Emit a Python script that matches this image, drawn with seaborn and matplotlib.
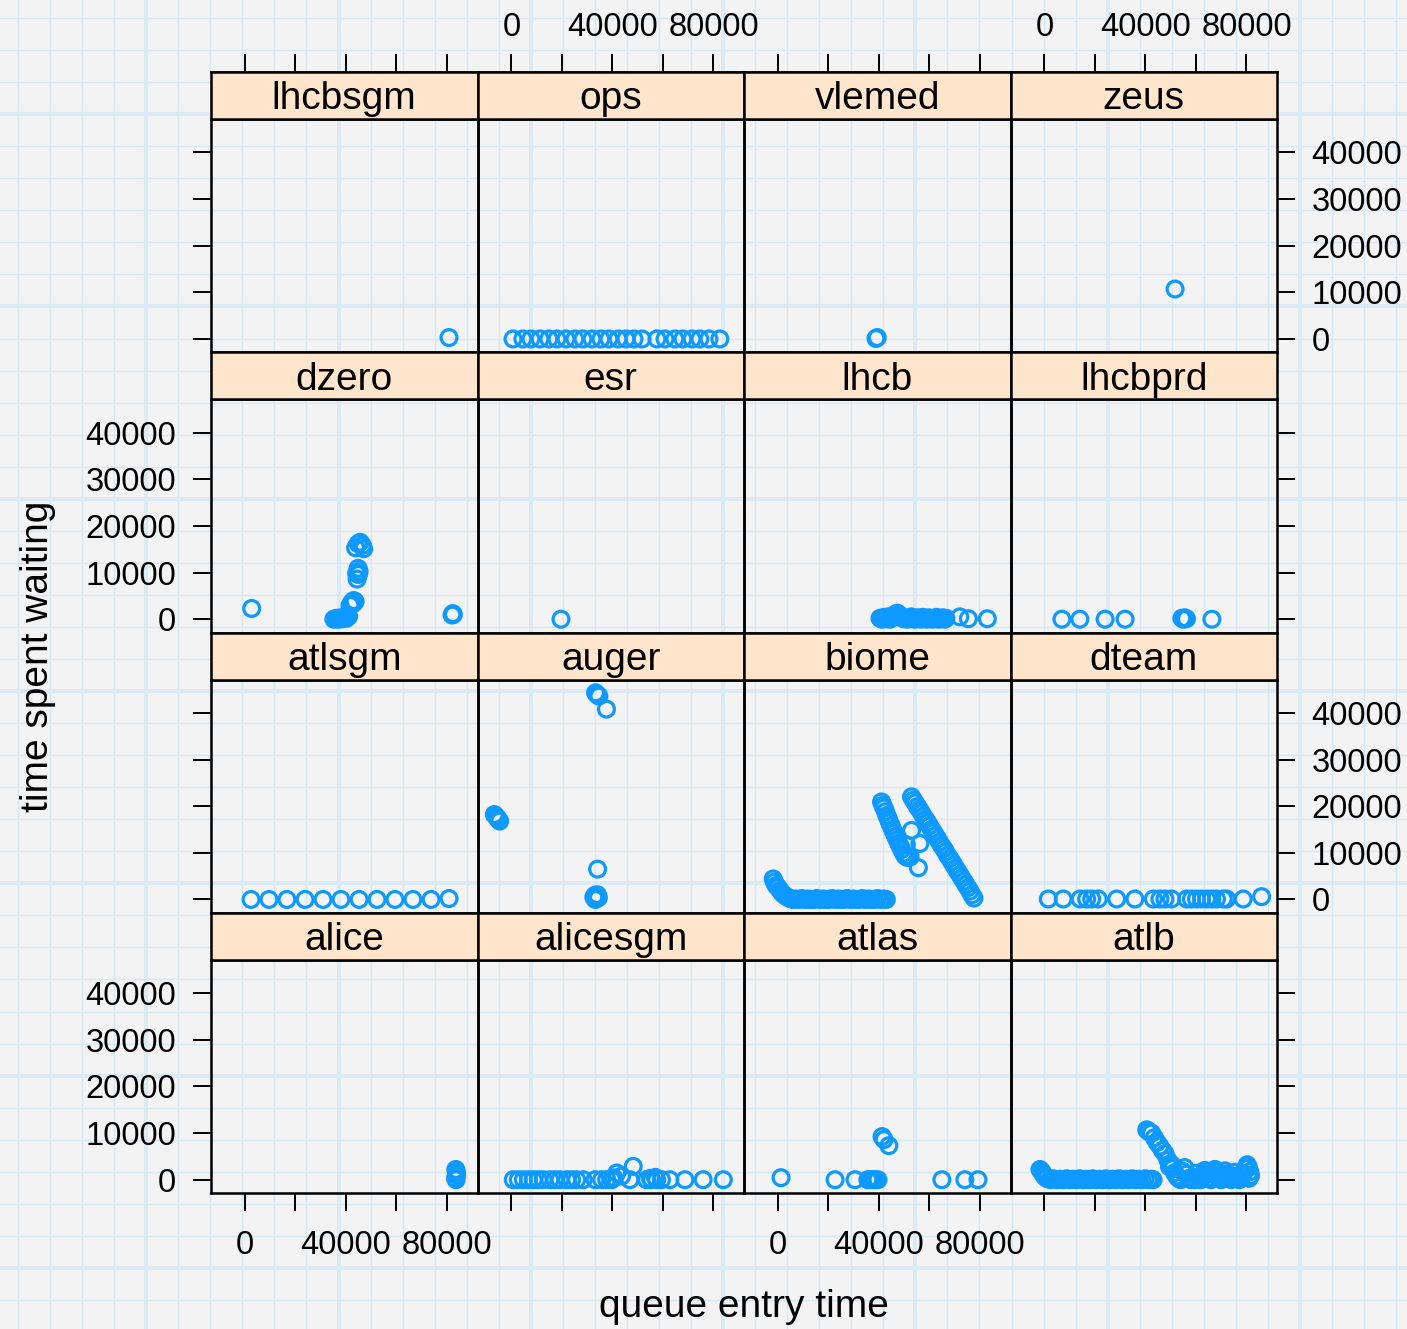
import numpy as np
import pandas as pd
import matplotlib
matplotlib.use("Agg")
import matplotlib.pyplot as plt
from matplotlib.patches import Rectangle
import seaborn as sns

# ---------------- data (queue entry time, time spent waiting) ----------------
lhcbsgm = [(80800, 300)]
ops = [(600, 0), (4500, 0), (7700, 0), (11300, 0), (14800, 0), (18000, 0), (21600, 0),
       (25100, 0), (28300, 0), (31900, 0), (35400, 0), (38600, 0), (42200, 0), (45300, 0),
       (48500, 0), (51700, 0), (57600, 0), (60800, 0), (64700, 0), (67900, 0), (71500, 0),
       (74600, 0), (78200, 0), (82500, 0)]
vlemed = [(38800, 100), (39300, 300)]
zeus = [(51700, 10700)]

dzero = [(2650, 2300), (35200, 0), (36200, 200), (37000, 0), (37800, 300), (38600, 100),
         (39400, 400), (40200, 200), (41000, 600), (41600, 3000), (42300, 3600), (43000, 4000),
         (43600, 3800), (42800, 3300), (44400, 8600), (44900, 9600), (44200, 9800), (44800, 10900),
         (45200, 10200), (43800, 15300), (44800, 16200), (45600, 16500), (46500, 15800),
         (47000, 15100), (82000, 900), (82300, 1200), (82500, 1000)]
esr = [(19600, 0)]
lhcb = [(40400, 200), (41200, 0), (42000, 400), (42800, 100), (43500, 500), (44300, 0),
        (45000, 300), (45800, 800), (46600, 1100), (47300, 1300), (48100, 900), (48900, 400),
        (49700, 100), (50400, 300), (51200, 0), (52000, 200), (52800, 500), (53500, 100),
        (54300, 0), (55100, 300), (55900, 200), (56600, 0), (57400, 400), (58200, 100),
        (59000, 0), (59700, 300), (60500, 100), (61300, 0), (62100, 200), (62800, 400),
        (63600, 0), (64400, 100), (65200, 300), (66000, 0), (66500, 200), (72000, 500),
        (75400, 100), (82900, 100)]
lhcbprd = [(6900, 0), (14000, 0), (24000, 0), (31900, 0), (54400, 200), (55000, 0),
           (55600, 300), (56200, 100), (66300, 0)]

atlsgm = [(2400, 0), (9500, 0), (16600, 0), (23800, 0), (30900, 0), (38000, 0), (45200, 0),
          (52300, 0), (59400, 0), (66500, 0), (73700, 0), (80800, 200)]
auger = [(-6800, 18200), (-6100, 17800), (-5400, 17300), (-4700, 16800), (33300, 44300),
         (33900, 43900), (34600, 43600), (37600, 40800), (34100, 6500), (32600, 500),
         (33100, 900), (33600, 200), (34000, 1000), (34400, 400), (33200, 0)]
biome = [(-1900, 4400), (-1400, 3700), (-700, 3000), (0, 2600), (800, 2000), (1600, 1400),
         (2600, 900), (3700, 500), (4800, 200), (5800, 0), (7000, 100), (8200, 0), (9400, 200),
         (10600, 0), (11800, 100), (13000, 0), (14200, 0), (15400, 200), (16600, 0), (17800, 100),
         (19000, 0), (20200, 0), (21400, 200), (22600, 0), (23800, 100), (25000, 0), (26200, 0),
         (27400, 200), (28600, 0), (29800, 100), (31000, 0), (32200, 0), (33400, 200),
         (34600, 0), (35800, 100), (37000, 0), (38200, 0), (39400, 200), (40600, 0),
         (41800, 100), (42900, 0),
         (41000, 20900), (41500, 20200), (42000, 19600), (42600, 18800), (43100, 18000),
         (43700, 17300), (44200, 16500), (44800, 15800), (45400, 15000), (46000, 14300),
         (46600, 13500), (47200, 12800), (47800, 12100), (48400, 11400), (49000, 10700),
         (49700, 9900), (50400, 9300), (51300, 9000), (52300, 9100), (52900, 14800),
         (56200, 12000), (55600, 6800), (50800, 11700),
         (52900, 22000), (53600, 21300), (54400, 20700), (55200, 19900), (56000, 19300),
         (56800, 18600), (57600, 17800), (58400, 17200), (59200, 16500), (60000, 15800),
         (60800, 15000), (61600, 14400), (62400, 13700), (63200, 13000), (64000, 12300),
         (64800, 11500), (65600, 10900), (66400, 10200), (67200, 9400), (68000, 8800),
         (68800, 8100), (69600, 7400), (70400, 6700), (71200, 6000), (72000, 5300),
         (72800, 4600), (73600, 3900), (74400, 3200), (75200, 2500), (76000, 1800),
         (76800, 1000), (77600, 300)]
dteam = [(1500, 100), (7400, 100), (14100, 100), (16700, 100), (18700, 100), (21300, 100),
         (28600, 100), (35800, 100), (43100, 100), (45700, 100), (47700, 100), (50300, 100),
         (56300, 100), (58200, 100), (60200, 100), (62200, 100), (64200, 100), (66200, 100),
         (68100, 100), (70800, 100), (72100, 100), (78700, 100), (86000, 600)]

alice = [(83500, 2200), (83700, 1600), (83800, 1000), (83400, 400), (83600, 0)]
alicesgm = [(700, 0), (2700, 0), (4700, 0), (6700, 0), (8600, 0), (10600, 0), (12600, 0),
            (15200, 0), (17200, 0), (19200, 0), (21900, 0), (23800, 0), (25800, 0), (28400, 0),
            (33100, 0), (35700, 0), (37700, 0), (39700, 0), (40500, 400), (41700, 1440),
            (43600, 800), (46900, 0), (48200, 2860), (53500, 0), (55000, 300), (55500, 0),
            (57000, 500), (57500, 0), (59400, 0), (62700, 0), (68700, 0), (75900, 0), (83900, 0)]
atlas = [(1200, 430), (22600, 0), (30500, 0), (35600, 0), (36600, 0), (37600, 0), (38600, 0),
         (39600, 0), (41200, 9250), (42000, 8600), (43900, 7300), (64900, 0), (74000, 0),
         (79200, 0)]
atlb = [(-1800, 2200), (-1300, 1900), (-800, 1500), (-300, 1000), (300, 600), (900, 300),
        (2200, 0), (3500, 200), (4800, 0), (6100, 100), (7400, 0), (8700, 200), (10000, 0),
        (11300, 100), (12600, 0), (13900, 200), (15200, 0), (16500, 100), (17800, 0),
        (19100, 200), (20400, 0), (21700, 100), (23000, 0), (24300, 200), (25600, 0),
        (26900, 100), (28200, 0), (29500, 200), (30800, 0), (32100, 100), (33400, 0),
        (34700, 200), (36000, 0), (37300, 100), (38600, 0), (39900, 200), (41200, 0),
        (42500, 100), (43000, 0),
        (40500, 10700), (41300, 10300), (42400, 10000), (43500, 9000), (44600, 8000),
        (45700, 7200), (46700, 6300), (47700, 5600), (48900, 4200), (50400, 3200),
        (49500, 2800), (50800, 2400),
        (51500, 1500), (52300, 800), (53100, 300), (53900, 0), (54700, 1800), (55500, 2600),
        (56300, 1200), (57100, 300), (57900, 0), (58700, 500), (59500, 0), (60300, 1400),
        (61100, 300), (61900, 0), (62700, 900), (63500, 2000), (64300, 1500), (65100, 400),
        (65900, 0), (66700, 1100), (67500, 2200), (68300, 1700), (69100, 600), (69900, 0),
        (70700, 800), (71500, 1900), (72300, 1200), (73100, 300), (73900, 0), (74700, 700),
        (75500, 1600), (76300, 800), (77100, 0), (77900, 400), (78700, 1300), (79500, 2400),
        (80300, 3200), (80800, 2600), (81300, 1700), (81600, 900), (81000, 300)]

panel_order = ["lhcbsgm", "ops", "vlemed", "zeus",
               "dzero", "esr", "lhcb", "lhcbprd",
               "atlsgm", "auger", "biome", "dteam",
               "alice", "alicesgm", "atlas", "atlb"]
panel_data = {"lhcbsgm": lhcbsgm, "ops": ops, "vlemed": vlemed, "zeus": zeus,
              "dzero": dzero, "esr": esr, "lhcb": lhcb, "lhcbprd": lhcbprd,
              "atlsgm": atlsgm, "auger": auger, "biome": biome, "dteam": dteam,
              "alice": alice, "alicesgm": alicesgm, "atlas": atlas, "atlb": atlb}

x_ticks = [0, 20000, 40000, 60000, 80000]
x_tick_labels = ["0", "", "40000", "", "80000"]
y_ticks = [0, 10000, 20000, 30000, 40000]
y_tick_labels = ["0", "10000", "20000", "30000", "40000"]

rows = []
for vo in panel_order:
    for xv, yv in panel_data[vo]:
        rows.append((vo, xv, yv))
df = pd.DataFrame(rows, columns=["vo", "entry", "wait"])

# ---------------- style ----------------
plt.rcParams["font.family"] = ["Liberation Sans", "DejaVu Sans"]
BLUE = "#0d99ff"
STRIP = "#ffe5cc"
W, H = 1407, 1329
TICK_FS = 23.5
STRIP_FS = 28
LAB_FS = 28
LW = 1.8

g = sns.FacetGrid(df, col="vo", col_wrap=4, col_order=panel_order,
                  sharex=True, sharey=True, despine=False, height=3, aspect=1)
g.map_dataframe(sns.scatterplot, x="entry", y="wait", marker="o", s=130,
                color=BLUE, facecolor="none", edgecolor=BLUE, linewidth=2.3)

fig = g.figure
fig.set_size_inches(W / 100, H / 100)
fig.patch.set_facecolor("#f3f3f3")

# graph-paper background
bg = fig.add_axes([0, 0, 1, 1], zorder=-10)
bg.set_xlim(0, W)
bg.set_ylim(H, 0)
bg.axis("off")
step = 32.05
for k in range(45):
    p = 18 + step * k
    thick_v = (k % 6 == 4)
    thick_h = (k % 6 == 3)
    bg.axvline(p, color="#dcebf3" if thick_v else "#d7e8f1", lw=3.0 if thick_v else 1.0, zorder=0)
    bg.axhline(p, color="#dcebf3" if thick_h else "#d7e8f1", lw=3.0 if thick_h else 1.0, zorder=0)

PX0, PY0 = 211, 72
PW = 266.5
RH = 280.25
SH = 47
strip_frac = SH / (RH - SH)

for i, vo in enumerate(panel_order):
    r, c = divmod(i, 4)
    ax = g.axes[i]
    left = (PX0 + PW * c) / W
    top_px = PY0 + RH * r + SH
    bot_px = PY0 + RH * (r + 1)
    ax.set_position([left, 1 - bot_px / H, PW / W, (bot_px - top_px) / H])
    ax.set_facecolor("none")
    ax.set_title("")
    ax.set_xlabel("")
    ax.set_ylabel("")
    ax.set_xlim(-13465, 92080)
    ax.set_ylim(-2850, 47150)
    ax.set_xticks(x_ticks, labels=x_tick_labels)
    ax.set_yticks(y_ticks, labels=y_tick_labels)
    for sp in ax.spines.values():
        sp.set_color("black")
        sp.set_linewidth(LW)
    ax.tick_params(direction="out", length=13, width=1.4, color="black",
                   labelsize=TICK_FS, pad=12, labelcolor="black",
                   bottom=(r == 3), labelbottom=(r == 3 and c in (0, 2)),
                   top=False, labeltop=False,
                   left=(c == 0), labelleft=(c == 0 and r in (1, 3)),
                   right=(c == 3), labelright=(c == 3 and r in (0, 2)))
    ax.tick_params(axis="x", pad=13.5)
    # strip
    ax.add_patch(Rectangle((0, 1), 1, strip_frac, transform=ax.transAxes,
                           facecolor=STRIP, edgecolor="black", lw=LW, clip_on=False, zorder=5))
    ax.text(0.5, 1 + strip_frac * 0.42, vo, transform=ax.transAxes, ha="center", va="center",
            fontsize=STRIP_FS, color="black", zorder=6)
    if r == 0:
        sec = ax.secondary_xaxis(1 + strip_frac)
        sec.set_xticks(x_ticks, labels=x_tick_labels)
        sec.spines["top"].set_linewidth(LW)
        sec.tick_params(direction="out", length=13, width=1.4, color="black",
                        labelsize=TICK_FS, pad=8, labeltop=(c in (1, 3)))

fig.text(744 / W, 1 - 1307 / H, "queue entry time", ha="center", va="center", fontsize=LAB_FS)
fig.text(38 / W, 1 - 656 / H, "time spent waiting", ha="center", va="center",
         rotation=90, fontsize=LAB_FS)

fig.savefig("out.png", dpi=100, facecolor=fig.get_facecolor())
